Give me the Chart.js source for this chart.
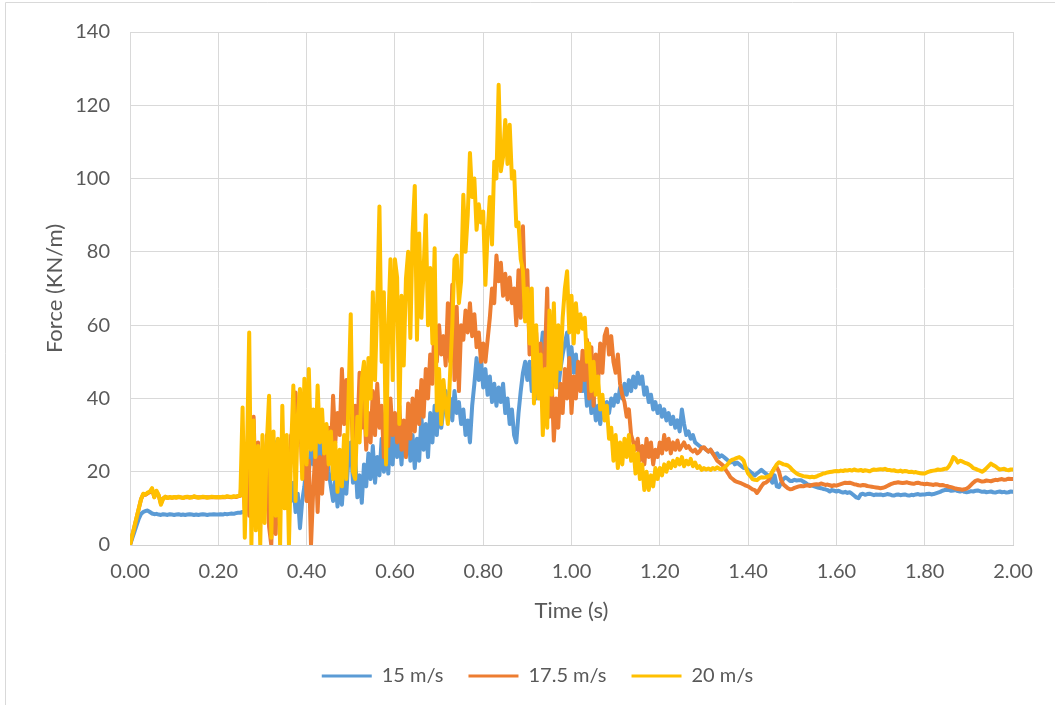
<!DOCTYPE html>
<html>
<head>
<meta charset="utf-8">
<title>Force vs time</title>
<script src="https://cdn.jsdelivr.net/npm/chart.js@4.4.1/dist/chart.umd.min.js"></script>
<style>
  html, body { margin: 0; padding: 0; background: #ffffff; overflow: hidden; }
  canvas { display: block; }
</style>
</head>
<body>
<canvas id="chart" width="1055" height="705"></canvas>
<script>
// Recorded force signals, one sample every SAMPLE_STEP seconds from t = 0 to t = 2.00 s
const SAMPLE_STEP = 0.005;

const seriesNames = ['15 m/s', '17.5 m/s', '20 m/s'];

const force15 = [
  0, 1.8, 3.6, 5.4, 7.2, 8.5, 9, 9.3, 9.4, 9, 8.6, 8.4, 8.5, 8.3, 8.2, 8.4, 8.3, 8.2, 8.4, 8.3,
  8.2, 8.3, 8.4, 8.2, 8.3, 8.2, 8.3, 8.4, 8.3, 8.2, 8.3, 8.2, 8.3, 8.4, 8.3, 8.2, 8.3, 8.3, 8.4, 8.3,
  8.3, 8.4, 8.3, 8.5, 8.4, 8.5, 8.6, 8.5, 8.7, 8.8, 8.8, 9.0, 9.2, 12, 18, 14, 22, 17, 25, 20,
  26, 21, 28, 23, 29.4, 25, 28, 22, 25, 18, 22, 15, 19, 12, 17, 9, 14, 4.6, 12, 16,
  22, 19.6, 27, 22, 29.4, 24, 28, 21, 27, 29, 20, 16, 12, 18, 10.5, 16, 11, 20, 14, 24,
  28, 17, 24, 13, 19, 11.5, 22, 16, 25, 18, 27, 17, 24, 19, 29, 20, 27, 19.5, 31, 22,
  33, 24, 30, 22, 32, 25, 34, 23, 30, 21, 29, 23, 35, 26, 33, 24, 36, 28, 38, 30,
  40, 32, 37, 42, 35, 40, 34, 42, 36, 39, 33, 37, 30, 34, 28, 38, 44, 51, 45, 50,
  43, 48, 41, 46, 39, 44, 38, 43, 39, 44, 36, 40, 33, 37, 30, 28, 36, 42, 47, 50,
  45, 50, 42, 47, 40, 46, 52, 58, 50, 55, 46, 52, 44, 50, 43, 48, 52, 55, 58, 50,
  54, 47, 52, 44, 49, 42, 46, 38, 43, 36, 40, 34, 38, 33, 37, 35, 39, 36, 40, 38,
  41, 39, 43, 40, 44, 41, 45, 42, 46, 43, 47, 44, 46, 41, 43, 39, 41, 37, 39, 36,
  38, 35, 37, 34, 36, 33, 35, 32, 34, 31, 37, 33, 30, 31, 29, 30, 28, 27.5, 27, 26.5,
  26.5, 26, 25.5, 26, 25, 24.5, 25, 24, 24.5, 24, 23.5, 23, 22.5, 23, 22, 22.5, 22, 21.5, 21, 21,
  20.5, 20, 19.5, 19, 19.5, 20, 20.5, 20, 19.5, 19, 18, 17, 19, 16, 15.8, 17, 18, 18.5, 18, 17.5,
  17.5, 17.8, 17.6, 17.7, 17.7, 17.3, 17, 16.5, 16.4, 16.2, 16, 15.8, 15.6, 15.5, 15.3, 15.2, 15, 14.6, 15, 14.8,
  14.6, 14.8, 14.5, 14.3, 14.5, 14.2, 14.4, 14, 13.5, 13, 12.8, 13.8, 14, 13.7, 13.9, 14, 13.8, 13.6, 13.8, 13.7,
  13.8, 13.6, 13.7, 13.9, 13.8, 13.6, 13.5, 13.7, 13.8, 13.6, 13.7, 13.8, 13.6, 13.5, 13.7, 13.6, 13.8, 13.9, 13.7, 13.8,
  13.8, 13.9, 14, 13.8, 13.9, 14.1, 14.3, 14.5, 14.8, 15, 15.1, 15, 14.8, 14.9, 15, 14.7, 14.6, 14.8, 14.5, 14.4,
  14.5, 14.7, 14.6, 14.8, 14.9, 14.7, 14.5, 14.6, 14.4, 14.5, 14.6, 14.4, 14.3, 14.5, 14.6, 14.4, 14.5, 14.3, 14.4, 14.6,
  14.5
];

const force17 = [
  0, 2.5, 5, 7.5, 10, 12.5, 13.8, 13.7, 14.1, 14.4, 15.2, 13.1, 14.5, 13.5, 11.3, 12.7, 13.1, 12.9, 13.0, 12.9,
  13.0, 13.0, 13.1, 13.0, 12.9, 13.0, 13.1, 13.0, 13.0, 13.2, 13.0, 13.0, 13.0, 13.1, 13.0, 13.0, 13.0, 13.1, 13.0, 13.0,
  13.0, 13.0, 13.1, 13.0, 13.2, 13.1, 13.0, 13.2, 13.1, 13.3, 13.4, 20, 10, 25, 8, 30, 35, 12, 28, 6,
  24, 10, 30, 5, 0, 18, 3, 22, 10, 27, 14, 26, 12, 30, 25, 41.6, 28, 36, 20, 30,
  12, 23, 0, 15, 26, 9, 24, 14, 26, 18, 32, 25, 40.7, 28, 36, 30, 48, 33, 45, 35,
  42, 27, 38, 30, 47, 32, 40, 26, 36, 28, 42, 30, 44, 32, 38, 24, 35, 27, 40, 30,
  36, 28, 38, 26, 34, 24, 38.6, 29, 40, 31, 42, 33, 45, 35, 48, 40, 52, 44, 62, 50,
  60, 52, 57, 49, 66, 50, 71, 45, 65, 42, 60, 56, 64, 58, 66, 57, 63, 54, 58, 50,
  55, 50, 56, 62, 70, 66, 79, 72, 77, 68, 74, 67, 73, 66, 70, 60, 75, 62, 87, 65,
  75, 52, 62, 47.6, 58, 45, 55, 40, 52, 70, 35, 45, 28.5, 40, 32, 44, 36, 48, 40, 51,
  36, 46, 40, 50, 42, 53, 45, 56, 40, 54, 38, 52, 44, 55, 47, 57, 59, 52, 57, 50,
  47, 52, 44, 41, 39, 35, 37, 30, 28, 26, 29, 23, 27, 22, 29, 24, 28, 22, 26, 24,
  28, 25, 30, 26, 29, 25, 28, 26, 28.5, 26, 27, 28, 26.5, 27, 26, 25.5, 26, 25, 25.5, 26.5,
  26.7, 26, 25.5, 26, 25, 24, 23, 22.5, 22, 21.5, 20.4, 19.5, 18.5, 18, 17.5, 17.2, 17, 16.8, 16.5, 16.2,
  16, 15.6, 15.2, 15, 14.2, 15, 16, 16.8, 17, 17.5, 18.5, 20, 21, 21.2, 20, 17.7, 16.5, 16, 15.5, 15.2,
  15.3, 15.6, 15.8, 16, 16.1, 16, 16.2, 16.3, 16.1, 16.4, 16.5, 16.6, 16.5, 16.8, 16.6, 16.4, 16.5, 16.3, 16.1, 16.3,
  16.2, 16.4, 16.6, 16.8, 17, 16.9, 17, 16.8, 16.6, 16.5, 16.3, 16.2, 16.4, 16.3, 16.1, 16, 15.9, 15.8, 15.7, 15.6,
  15.5, 15.6, 15.8, 16.1, 16.4, 16.7, 16.9, 17.0, 17.1, 17.0, 16.9, 17.0, 17.1, 16.9, 16.8, 16.7, 16.9, 17, 16.8, 16.7,
  16.6, 16.7, 16.6, 16.5, 16.4, 16.6, 16.5, 16.3, 16.4, 16.2, 16.1, 15.9, 15.8, 15.6, 15.4, 15.3, 15.2, 15.1, 15.2, 15.4,
  15.8, 16.4, 17, 17.5, 17.7, 17.5, 17.3, 17.4, 17.6, 17.5, 17.4, 17.6, 17.8, 17.7, 17.9, 18, 17.8, 17.9, 18.1, 18,
  18
];

const force20 = [
  0, 2.5, 5, 7.5, 10, 12.5, 14, 13.8, 14.3, 14.6, 15.5, 13, 14.8, 13.6, 11, 12.6, 13.2, 12.8, 13.1, 12.9,
  13.1, 12.9, 13.2, 13.0, 12.8, 13.1, 13.2, 12.9, 13.0, 13.3, 13.1, 12.9, 13.0, 13.2, 13.1, 12.9, 13.0, 13.2, 13.1, 13.0,
  13.1, 13.0, 13.2, 13.1, 13.3, 13.2, 13.1, 13.3, 13.2, 13.4, 13.5, 37.5, 2, 25, 58, 0, 34, 4, 27, 0,
  30, 6, 28, 40.7, 2, 31, 8, 29, 0, 38, 10, 30, 0, 26, 43.5, 12, 35, 42.6, 18, 45.4,
  22, 48, 26, 37, 24, 43.5, 28, 37, 25, 33, 22, 31, 18, 28, 14.5, 26, 16, 30, 18, 40,
  63, 20, 18, 35, 28, 45, 50, 30, 51, 40, 69, 45, 66.6, 92.4, 50, 69, 22, 60, 78, 45,
  78, 73, 33, 68, 49, 72.6, 80, 56.5, 85, 98, 56, 85, 62, 75, 90, 60, 75.6, 55, 81, 36.7,
  48, 33, 45, 38, 33, 46.7, 60, 78, 79, 66, 72, 95.6, 80, 90, 107, 95, 100, 86, 93, 88,
  91, 71, 85, 95, 82, 104.6, 100, 125.6, 102, 106, 116, 104, 114.7, 100, 102, 87, 88, 78, 75, 61,
  70, 55, 70, 38.6, 60, 40, 52, 30, 48, 32, 64, 41, 66, 43, 60, 48, 62, 70, 74.7, 58,
  68, 55, 66, 58, 63, 59, 62, 50, 55, 42, 50, 41, 46, 37, 41, 34, 38, 29, 32, 23,
  30, 21, 28, 22, 29, 24, 30, 23, 27, 19.5, 25, 18, 22, 15, 20, 15, 19, 16, 21, 18,
  21, 19, 22, 20, 22.5, 21, 23, 21.5, 23.5, 22, 24, 21.5, 23, 22, 23.5, 21.5, 22.5, 21, 21.5, 20.5,
  21, 20.6, 20.9, 20.5, 21, 20.7, 21.2, 20.8, 20.6, 21, 21.5, 22.2, 23, 23.3, 23.5, 23.8, 24, 23.6, 23, 21,
  19.5, 18.8, 18, 17.8, 17.7, 18.2, 18.5, 18.4, 18.5, 18.7, 19, 20, 21, 22, 22.6, 22.3, 22, 21.9, 21.7, 21.2,
  20.5, 20, 19.5, 19.2, 19, 18.8, 18.7, 18.6, 18.5, 18.6, 18.5, 18.7, 19, 19.2, 19.5, 19.6, 19.8, 19.9, 20, 20.1,
  20.2, 20.1, 20.3, 20.2, 20.4, 20.3, 20.5, 20.3, 20.6, 20.4, 20.3, 20.5, 20.2, 20.4, 20.3, 20.1, 20.4, 20.6, 20.5, 20.6,
  20.7, 20.6, 20.8, 20.5, 20.5, 20.3, 20.4, 20.2, 20.1, 20.3, 20.0, 20.2, 20.1, 19.9, 20.0, 19.8, 19.9, 19.7, 19.6, 19.5,
  19.5, 19.8, 20.0, 20.2, 20.3, 20.4, 20.6, 20.5, 20.6, 20.8, 20.8, 21.5, 22.5, 24, 23.5, 22.5, 23, 22.8, 22.5, 22.3,
  22, 21.6, 21, 20.8, 20.5, 20.3, 20, 20.4, 21, 21.6, 22.2, 21.8, 21.5, 21, 20.6, 20.7, 20.8, 20.5, 20.4, 20.6,
  20.6
];

const xTickValues = [0, 0.2, 0.4, 0.6, 0.8, 1.0, 1.2, 1.4, 1.6, 1.8, 2.0];
const xTickLabels = ['0.00', '0.20', '0.40', '0.60', '0.80', '1.00', '1.20', '1.40', '1.60', '1.80', '2.00'];
const yTickValues = [0, 20, 40, 60, 80, 100, 120, 140];
const yTickLabels = ['0', '20', '40', '60', '80', '100', '120', '140'];

const seriesColors = ['#5B9BD5', '#ED7D31', '#FFC000'];
const TEXT_COLOR = '#595959';
const GRID_COLOR = '#d9d9d9';
const FONT_FAMILY = 'Lato, "Open Sans", sans-serif';

function toPoints(values) {
  return values.map((v, i) => ({ x: Math.round(i * SAMPLE_STEP * 1000) / 1000, y: v }));
}

function makeDataset(idx, values, drawOrder) {
  return {
    label: seriesNames[idx],
    data: toPoints(values),
    borderColor: seriesColors[idx],
    backgroundColor: seriesColors[idx],
    borderWidth: 4,
    borderJoinStyle: 'round',
    borderCapStyle: 'round',
    pointRadius: 0,
    pointHoverRadius: 0,
    fill: false,
    tension: 0,
    order: drawOrder
  };
}

// light frame around the chart object
const framePlugin = {
  id: 'frame',
  beforeDraw(chart) {
    const c = chart.ctx;
    c.save();
    c.fillStyle = '#ffffff';
    c.fillRect(0, 0, chart.width, chart.height);
    c.strokeStyle = '#d9d9d9';
    c.lineWidth = 1;
    c.beginPath();
    c.moveTo(5.5, chart.height);
    c.lineTo(5.5, 2.5);
    c.lineTo(chart.width, 2.5);
    c.stroke();
    c.restore();
  }
};

new Chart(document.getElementById('chart'), {
  type: 'line',
  data: {
    datasets: [
      makeDataset(0, force15, 3),
      makeDataset(1, force17, 2),
      makeDataset(2, force20, 1)
    ]
  },
  options: {
    responsive: false,
    animation: false,
    events: [],
    layout: { padding: { left: 62, right: 42, top: 30, bottom: 9 } },
    plugins: {
      tooltip: { enabled: false },
      legend: {
        position: 'bottom',
        labels: {
          boxWidth: 50,
          boxHeight: 3,
          padding: 25,
          color: TEXT_COLOR,
          font: { family: FONT_FAMILY, size: 20 },
          sort: (a, b) => a.datasetIndex - b.datasetIndex,
          generateLabels: chart =>
            Chart.defaults.plugins.legend.labels.generateLabels(chart).map(l => Object.assign(l, { lineWidth: 0 }))
        }
      }
    },
    scales: {
      x: {
        type: 'linear',
        min: 0,
        max: 2,
        afterBuildTicks: scale => { scale.ticks = xTickValues.map(v => ({ value: v })); },
        afterFit: scale => { scale.height = 96; },
        ticks: {
          color: TEXT_COLOR,
          font: { family: FONT_FAMILY, size: 20 },
          padding: 15,
          maxRotation: 0,
          autoSkip: false,
          callback: (v, i) => xTickLabels[i]
        },
        grid: { color: GRID_COLOR, lineWidth: 1, drawTicks: false },
        border: { color: '#d0d0d0', width: 1 },
        title: {
          display: true,
          text: 'Time (s)',
          color: TEXT_COLOR,
          font: { family: FONT_FAMILY, size: 22 },
          padding: { top: 0, bottom: 17 }
        }
      },
      y: {
        type: 'linear',
        min: 0,
        max: 140,
        afterBuildTicks: scale => { scale.ticks = yTickValues.map(v => ({ value: v })); },
        afterFit: scale => { scale.width = 68; },
        ticks: {
          color: TEXT_COLOR,
          font: { family: FONT_FAMILY, size: 20 },
          padding: 20,
          autoSkip: false,
          callback: (v, i) => yTickLabels[i]
        },
        grid: { color: GRID_COLOR, lineWidth: 1, drawTicks: false },
        border: { color: GRID_COLOR, width: 1 },
        title: {
          display: true,
          text: 'Force (KN/m)',
          color: TEXT_COLOR,
          font: { family: FONT_FAMILY, size: 22 },
          padding: { top: -20, bottom: 0 }
        }
      }
    }
  },
  plugins: [framePlugin]
});
</script>
</body>
</html>
